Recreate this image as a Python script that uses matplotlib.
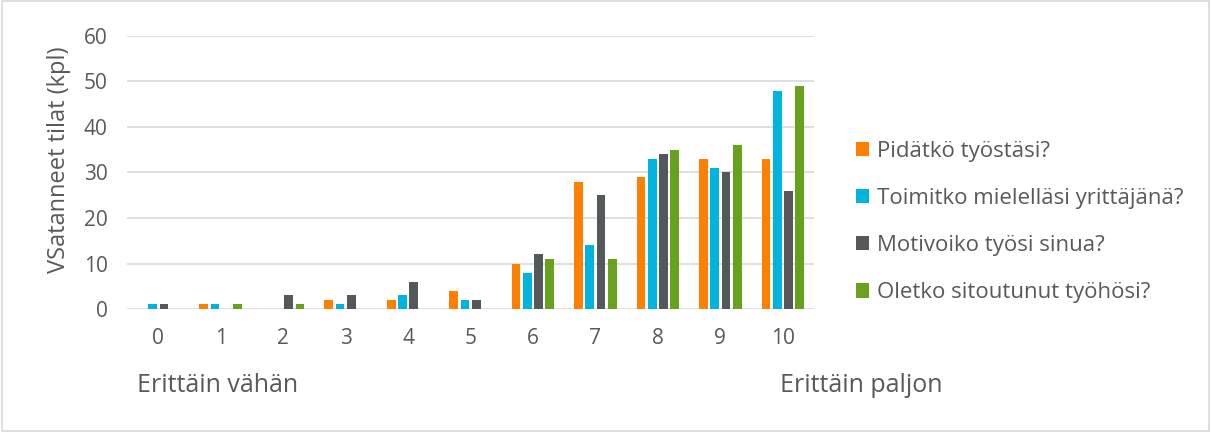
import numpy as np
import matplotlib
matplotlib.use("Agg")
import matplotlib.pyplot as plt
from matplotlib.patches import Rectangle

plt.rcParams['font.family'] = ['Open Sans', 'DejaVu Sans']

# Data
categories = ['0', '1', '2', '3', '4', '5', '6', '7', '8', '9', '10']
series_names = ['Pidätkö työstäsi?', 'Toimitko mielelläsi yrittäjänä?',
                'Motivoiko työsi sinua?', 'Oletko sitoutunut työhösi?']
pidatko = [0, 1, 0, 2, 2, 4, 10, 28, 29, 33, 33]
toimitko = [1, 1, 0, 1, 3, 2, 8, 14, 33, 31, 48]
motivoiko = [1, 0, 3, 3, 6, 2, 12, 25, 34, 30, 26]
oletko = [0, 1, 1, 0, 0, 0, 11, 11, 35, 36, 49]
colors = ['#FF8000', '#00B4E0', '#54585A', '#67A11E']

text_col = '#595959'
grid_col = '#D9D9D9'

fig = plt.figure(figsize=(12.11, 4.32), dpi=100)
ax = fig.add_axes([0.1049, 0.2847, 0.5673, 0.632])

x = np.arange(len(categories))
width = 0.14
step = 0.18
for i, (vals, name, c) in enumerate(zip([pidatko, toimitko, motivoiko, oletko], series_names, colors)):
    ax.bar(x + (i - 1.5) * step, vals, width, color=c, label=name, zorder=3)

ax.set_xlim(-0.5, 10.5)
ax.set_ylim(0, 60)
ax.set_yticks(range(0, 61, 10))
ax.set_xticks(x)
ax.set_xticklabels(categories)
ax.yaxis.grid(True, color=grid_col, linewidth=1.2, zorder=0)
ax.set_axisbelow(True)
for s in ax.spines.values():
    s.set_visible(False)
ax.tick_params(length=0, labelsize=15, labelcolor=text_col)
ax.tick_params(axis='x', pad=14)
ax.tick_params(axis='y', pad=14)

fig.text(59 / 1211, 1 - 160 / 432, 'VSatanneet tilat (kpl)', fontsize=17, color=text_col,
         rotation=90, va='center', ha='center')
fig.text(137 / 1211, 1 - 385 / 432, 'Erittäin vähän', fontsize=18, color=text_col, va='center', ha='left')
fig.text(780 / 1211, 1 - 385 / 432, 'Erittäin paljon', fontsize=18, color=text_col, va='center', ha='left')

leg = ax.legend(loc='center left', bbox_to_anchor=(836 / 1211, 1 - 222 / 432),
                bbox_transform=fig.transFigure, frameon=False, fontsize=16,
                handlelength=0.6, handleheight=0.6, handletextpad=0.35, labelspacing=1.18)
for t in leg.get_texts():
    t.set_color(text_col)

fig.patches.append(Rectangle((0.002, 0.003), 0.996, 0.994, transform=fig.transFigure,
                             fill=False, edgecolor=grid_col, linewidth=1.2))

fig.savefig('out.png', dpi=100, facecolor='white')
